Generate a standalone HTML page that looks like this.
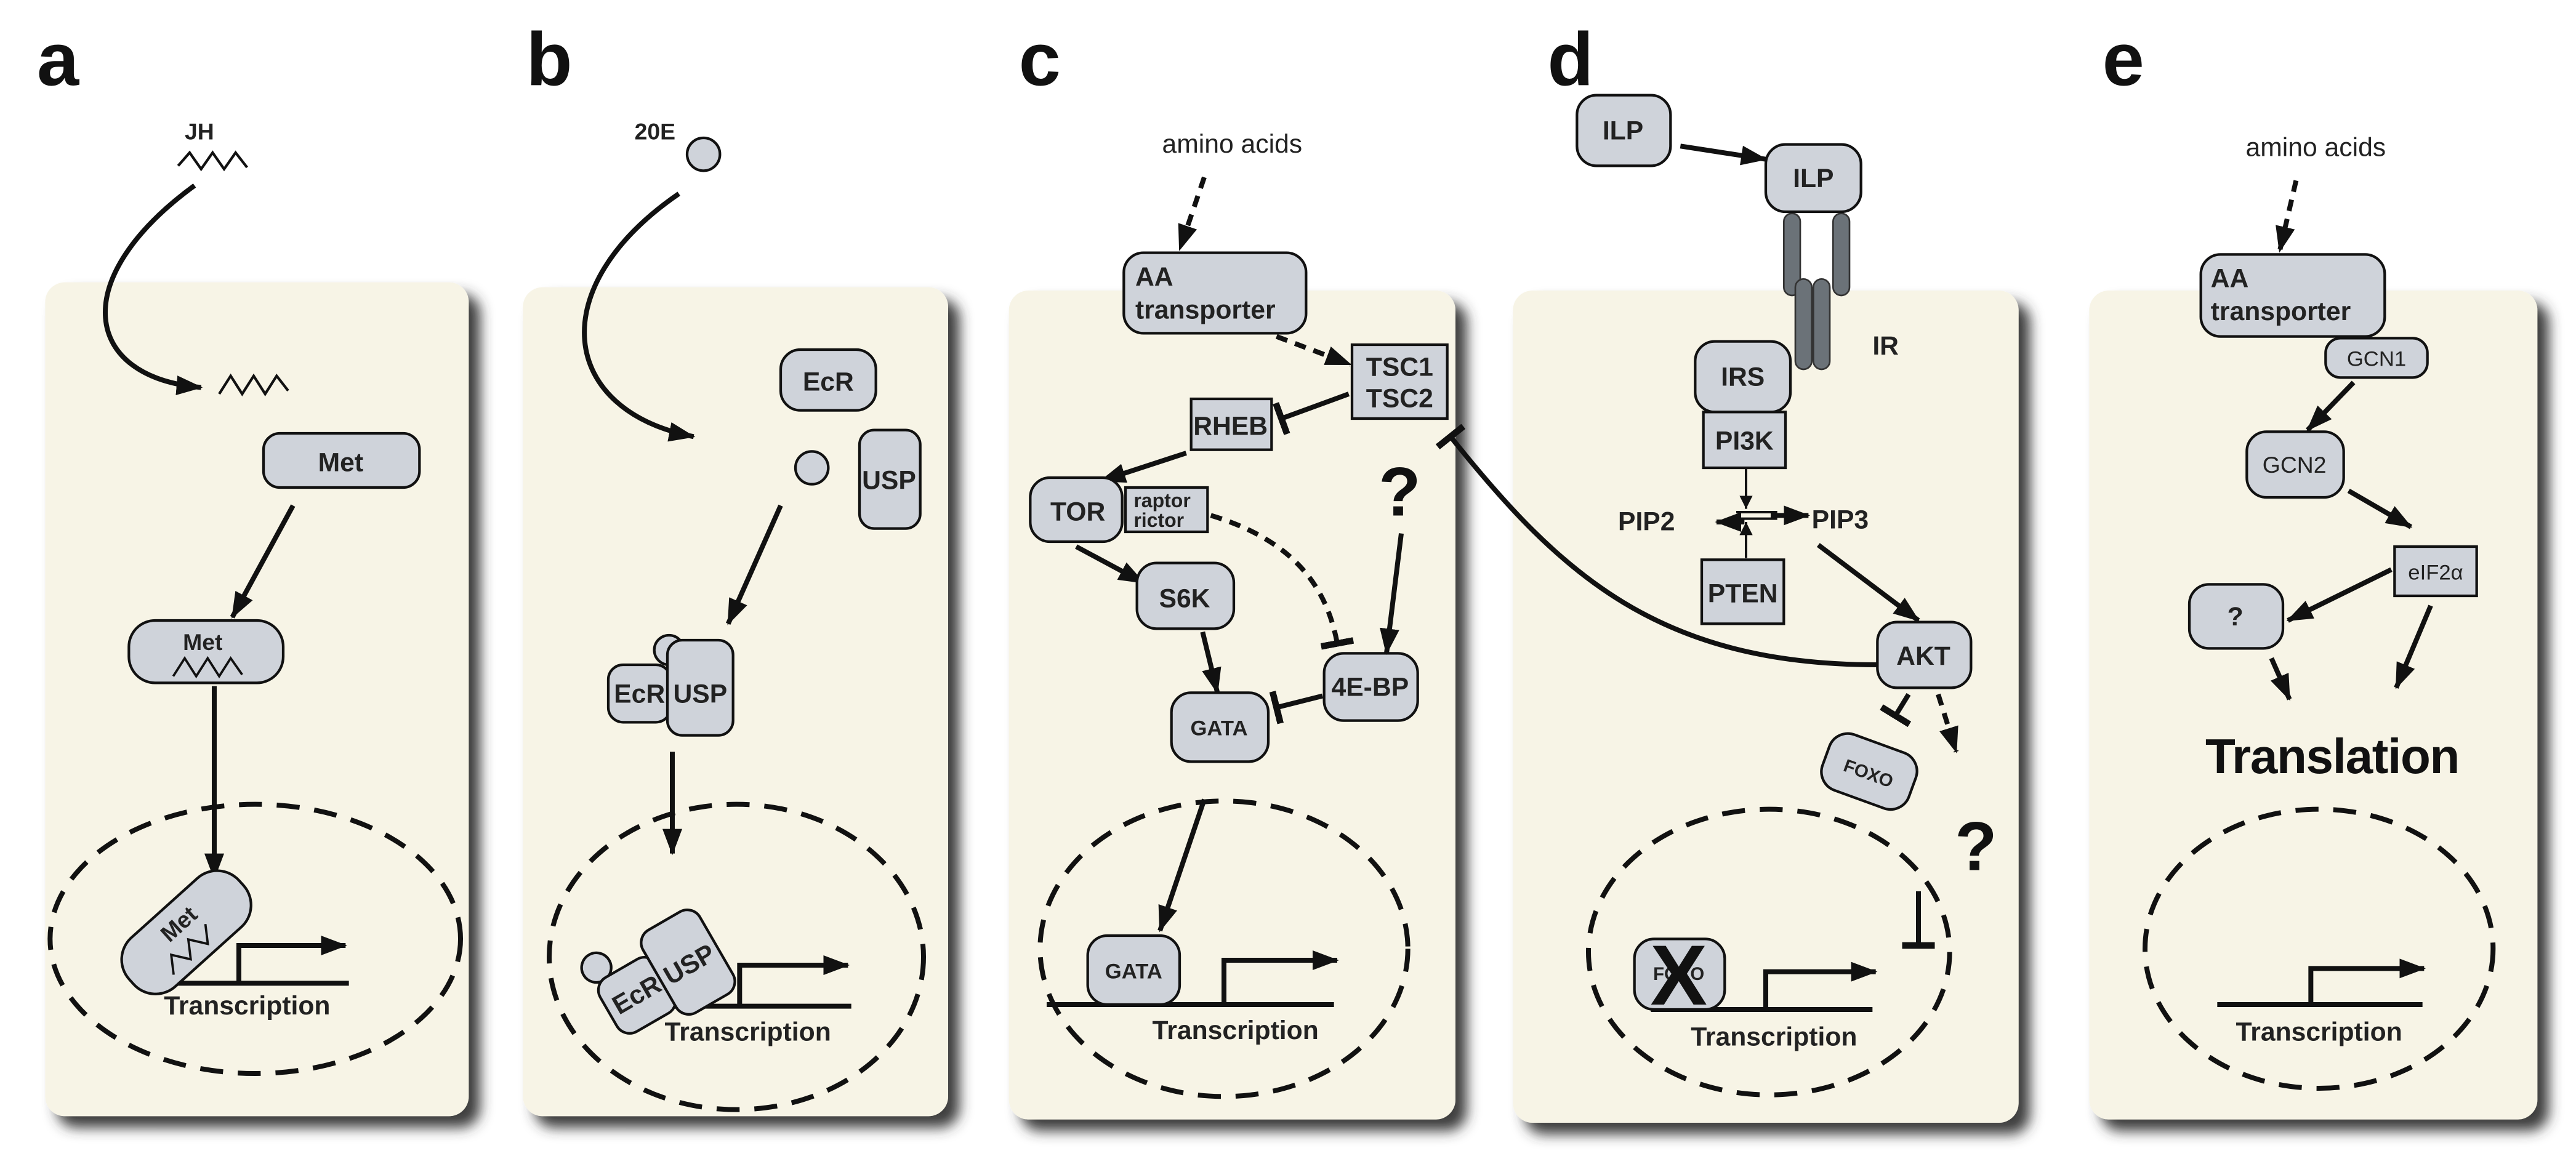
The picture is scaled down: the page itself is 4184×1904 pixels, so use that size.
<!DOCTYPE html>
<html><head><meta charset="utf-8"><style>
html,body{margin:0;padding:0;background:#fff;}
svg{display:block;}
text{font-family:"Liberation Sans",Arial,sans-serif;font-weight:bold;fill:#222;}
</style></head><body>
<svg width="4184" height="1904" viewBox="0 0 1568 714" xmlns="http://www.w3.org/2000/svg">
<defs>
<filter id="sh" x="-10%" y="-10%" width="130%" height="130%"><feDropShadow dx="7" dy="7" stdDeviation="4" flood-color="#333" flood-opacity="0.95"/></filter>
<marker id="ah" viewBox="0 0 16 12" refX="15" refY="6" markerWidth="16" markerHeight="12" orient="auto" markerUnits="userSpaceOnUse"><path d="M0,0 L16,6 L0,12 z" fill="#111"/></marker>
<marker id="sa" viewBox="0 0 10 10" refX="10" refY="5" markerWidth="8" markerHeight="8" orient="auto" markerUnits="userSpaceOnUse"><path d="M0,0 L10,5 L0,10 z" fill="#111"/></marker>
<marker id="bar" viewBox="0 0 4 20" refX="2" refY="10" markerWidth="4" markerHeight="20" orient="auto" markerUnits="userSpaceOnUse"><rect x="0" y="0" width="4" height="20" fill="#111"/></marker>
</defs>
<style>
.p{fill:#f7f4e6;}
.n{fill:#cfd3da;stroke:#111;stroke-width:1.6;}
.l{stroke:#111;stroke-width:3;fill:none;}
.d{stroke:#111;stroke-width:3;fill:none;stroke-dasharray:7 5;}
.nu{stroke:#111;stroke-width:3;fill:none;stroke-dasharray:14 9;}
.t{font-size:16px;}
.s{font-size:12px;}
.big{font-size:46px;font-weight:bold;fill:#111;}
</style>
<g filter="url(#sh)">
<rect class="p" x="27" y="172" width="258" height="508" rx="12"/>
<rect class="p" x="318" y="175" width="259" height="505" rx="12"/>
<rect class="p" x="614" y="177" width="272" height="505" rx="12"/>
<rect class="p" x="921" y="177" width="308" height="507" rx="12"/>
<rect class="p" x="1272" y="177" width="273" height="505" rx="12"/>
</g>
<text class="big" x="22" y="52">a</text>
<text class="big" x="320" y="52">b</text>
<text class="big" x="620" y="52">c</text>
<text class="big" x="942" y="52">d</text>
<text class="big" x="1280" y="52">e</text>

<!-- panel a -->
<text x="112" y="85" style="font-size:14px">JH</text>
<polyline class="l" style="stroke-width:1.6" points="108,101 115,93 122,103 129,93 136,103 143,93 150,102"/>
<path class="l" d="M118,113 C40,170 50,230 122,236" marker-end="url(#ah)"/>
<polyline class="l" style="stroke-width:1.6" points="133,240 140,229 147,240 154,229 161,240 168,229 175,238"/>
<rect class="n" x="160" y="264" width="95" height="33" rx="10"/>
<text class="t" x="207" y="287" text-anchor="middle">Met</text>
<line class="l" x1="178" y1="308" x2="141" y2="376" marker-end="url(#ah)"/>
<rect class="n" x="78" y="378" width="94" height="38" rx="16"/>
<text class="s" x="123" y="396" text-anchor="middle" style="font-size:14px">Met</text>
<polyline class="l" style="stroke-width:1.4" points="105,412 112,401 119,412 126,401 133,412 140,401 147,411"/>
<line class="l" x1="130" y1="418" x2="130" y2="535" marker-end="url(#ah)"/>
<ellipse class="nu" cx="155" cy="572" rx="125" ry="82"/>
<line class="l" x1="95" y1="599" x2="212" y2="599"/>
<path class="l" d="M145,599 V576 H210" marker-end="url(#ah)"/>
<g transform="rotate(-42 113 568)"><rect class="n" x="68" y="548" width="90" height="40" rx="18"/><text class="t" x="113" y="566" text-anchor="middle" style="font-size:14px">Met</text><polyline class="l" style="stroke-width:1.4" points="90,582 97,572 104,582 111,572 118,582 125,572"/></g>
<text class="t" x="150" y="618" text-anchor="middle">Transcription</text>

<!-- panel b -->
<text x="386" y="85" style="font-size:14px">20E</text>
<circle class="n" cx="428" cy="94" r="10"/>
<path class="l" d="M413,118 C330,175 340,250 422,266" marker-end="url(#ah)"/>
<rect class="n" x="475" y="213" width="58" height="37" rx="12"/>
<text class="t" x="504" y="238" text-anchor="middle">EcR</text>
<circle class="n" cx="494" cy="285" r="10"/>
<rect class="n" x="523" y="262" width="37" height="60" rx="9"/>
<text class="t" x="541" y="298" text-anchor="middle">USP</text>
<line class="l" x1="475" y1="308" x2="443" y2="380" marker-end="url(#ah)"/>
<circle class="n" cx="407" cy="396" r="9"/>
<rect class="n" x="370" y="405" width="38" height="35" rx="9"/>
<rect class="n" x="406" y="390" width="40" height="58" rx="9"/>
<text class="t" x="389" y="428" text-anchor="middle">EcR</text>
<text class="t" x="426" y="428" text-anchor="middle">USP</text>
<line class="l" x1="409" y1="458" x2="409" y2="520" marker-end="url(#ah)"/>
<ellipse class="nu" cx="448" cy="583" rx="114" ry="93"/>
<line class="l" x1="388" y1="613" x2="518" y2="613"/>
<path class="l" d="M450,613 V588 H516" marker-end="url(#ah)"/>
<g transform="rotate(-30 400 598)"><circle class="n" cx="372" cy="572" r="9"/><rect class="n" x="365" y="580" width="40" height="38" rx="9"/><rect class="n" x="402" y="568" width="40" height="58" rx="9"/><text class="t" x="385" y="604" text-anchor="middle">EcR</text><text class="t" x="422" y="604" text-anchor="middle">USP</text></g>
<text class="t" x="455" y="634" text-anchor="middle">Transcription</text>

<!-- panel c -->
<text class="t" x="750" y="93" text-anchor="middle" style="font-weight:normal">amino acids</text>
<line class="d" x1="733" y1="108" x2="718" y2="152" marker-end="url(#ah)"/>
<rect class="n" x="684" y="154" width="111" height="49" rx="12"/>
<text class="t" x="691" y="174">AA</text>
<text class="t" x="691" y="194">transporter</text>
<line class="d" x1="777" y1="205" x2="822" y2="222" marker-end="url(#ah)"/>
<rect class="n" x="823" y="210" width="58" height="45"/>
<text class="t" x="852" y="229" text-anchor="middle">TSC1</text>
<text class="t" x="852" y="248" text-anchor="middle">TSC2</text>
<rect class="n" x="725" y="243" width="49" height="31"/>
<text class="t" x="749" y="265" text-anchor="middle">RHEB</text>
<line class="l" x1="821" y1="240" x2="780" y2="255" marker-end="url(#bar)"/>
<line class="l" x1="722" y1="276" x2="670" y2="293" marker-end="url(#ah)"/>
<rect class="n" x="627" y="291" width="56" height="39" rx="12"/>
<text class="t" x="656" y="317" text-anchor="middle">TOR</text>
<rect class="n" x="685" y="297" width="50" height="27"/>
<text class="s" x="690" y="309">raptor</text>
<text class="s" x="690" y="321">rictor</text>
<line class="l" x1="655" y1="333" x2="696" y2="355" marker-end="url(#ah)"/>
<rect class="n" x="692" y="343" width="59" height="40" rx="12"/>
<text class="t" x="721" y="370" text-anchor="middle">S6K</text>
<line class="l" x1="732" y1="385" x2="741" y2="422" marker-end="url(#ah)"/>
<rect class="n" x="713" y="422" width="59" height="42" rx="12"/>
<text class="s" x="742" y="448" text-anchor="middle" style="font-size:13px">GATA</text>
<rect class="n" x="806" y="398" width="57" height="41" rx="12"/>
<text class="t" x="834" y="424" text-anchor="middle">4E-BP</text>
<line class="l" x1="805" y1="424" x2="777" y2="431" marker-end="url(#bar)"/>
<path class="d" d="M737,314 C790,330 808,360 814,392" marker-end="url(#bar)"/>
<text x="852" y="314" text-anchor="middle" style="font-size:42px;fill:#111">?</text>
<line class="l" x1="853" y1="325" x2="844" y2="398" marker-end="url(#ah)"/>
<path class="l" d="M1143,405 C1010,405 950,350 883,266" marker-end="url(#bar)"/>
<ellipse class="nu" cx="745" cy="578" rx="112" ry="90"/>
<line class="l" x1="733" y1="487" x2="706" y2="567" marker-end="url(#ah)"/>
<line class="l" x1="637" y1="612" x2="812" y2="612"/>
<path class="l" d="M745,612 V585 H814" marker-end="url(#ah)"/>
<rect class="n" x="662" y="570" width="56" height="42" rx="12"/>
<text class="s" x="690" y="596" text-anchor="middle" style="font-size:13px">GATA</text>
<text class="t" x="752" y="633" text-anchor="middle">Transcription</text>

<!-- panel d -->
<rect class="n" x="960" y="58" width="57" height="43" rx="12"/>
<text class="t" x="988" y="85" text-anchor="middle">ILP</text>
<line class="l" x1="1023" y1="89" x2="1075" y2="97" marker-end="url(#ah)"/>
<rect x="1086" y="130" width="10" height="50" rx="5" style="fill:#6b7278;stroke:#333"/>
<rect x="1116" y="130" width="10" height="50" rx="5" style="fill:#6b7278;stroke:#333"/>
<rect x="1093" y="170" width="10" height="55" rx="5" style="fill:#6b7278;stroke:#333"/>
<rect x="1104" y="170" width="10" height="55" rx="5" style="fill:#6b7278;stroke:#333"/>
<rect class="n" x="1075" y="88" width="58" height="41" rx="12"/>
<text class="t" x="1104" y="114" text-anchor="middle">ILP</text>
<text class="t" x="1140" y="216">IR</text>
<rect class="n" x="1032" y="208" width="58" height="43" rx="12"/>
<text class="t" x="1061" y="235" text-anchor="middle">IRS</text>
<rect class="n" x="1037" y="251" width="50" height="34"/>
<text class="t" x="1062" y="274" text-anchor="middle">PI3K</text>
<line class="l" style="stroke-width:1.5" x1="1063" y1="285" x2="1063" y2="310" marker-end="url(#sa)"/>
<line class="l" style="stroke-width:1.5" x1="1057" y1="312" x2="1082" y2="312"/>
<line class="l" style="stroke-width:1.5" x1="1057" y1="316" x2="1082" y2="316"/>
<line class="l" x1="1062" y1="318" x2="1045" y2="318" marker-end="url(#ah)"/>
<line class="l" x1="1078" y1="314" x2="1101" y2="314" marker-end="url(#ah)"/>
<text class="t" x="985" y="323">PIP2</text>
<text class="t" x="1103" y="322">PIP3</text>
<line class="l" style="stroke-width:1.5" x1="1063" y1="340" x2="1063" y2="318" marker-end="url(#sa)"/>
<rect class="n" x="1036" y="341" width="50" height="39"/>
<text class="t" x="1061" y="367" text-anchor="middle">PTEN</text>
<line class="l" x1="1107" y1="332" x2="1168" y2="378" marker-end="url(#ah)"/>
<rect class="n" x="1143" y="379" width="57" height="40" rx="12"/>
<text class="t" x="1171" y="405" text-anchor="middle">AKT</text>
<line class="l" x1="1162" y1="423" x2="1154" y2="436" marker-end="url(#bar)"/>
<g transform="rotate(20 1138 470)"><rect class="n" x="1110" y="452" width="56" height="36" rx="12"/><text class="s" x="1138" y="475" text-anchor="middle" style="font-size:11px">FOXO</text></g>
<line class="d" x1="1180" y1="423" x2="1191" y2="458" marker-end="url(#ah)"/>
<text x="1203" y="530" text-anchor="middle" style="font-size:42px;fill:#111">?</text>
<ellipse class="nu" cx="1077" cy="580" rx="110" ry="87"/>
<line class="l" x1="1168" y1="543" x2="1168" y2="576" marker-end="url(#bar)"/>
<line class="l" x1="1005" y1="615" x2="1140" y2="615"/>
<path class="l" d="M1075,615 V592 H1142" marker-end="url(#ah)"/>
<rect class="n" x="995" y="572" width="55" height="43" rx="12"/>
<text class="s" x="1022" y="597" text-anchor="middle" style="font-size:11px">FOXO</text>
<text x="1022" y="612" text-anchor="middle" style="font-size:52px;fill:#111">X</text>
<text class="t" x="1080" y="637" text-anchor="middle">Transcription</text>

<!-- panel e -->
<text class="t" x="1410" y="95" text-anchor="middle" style="font-weight:normal">amino acids</text>
<line class="d" x1="1398" y1="110" x2="1388" y2="153" marker-end="url(#ah)"/>
<rect class="n" x="1340" y="155" width="112" height="50" rx="12"/>
<text class="t" x="1346" y="175">AA</text>
<text class="t" x="1346" y="195">transporter</text>
<rect class="n" x="1416" y="206" width="62" height="24" rx="9"/>
<text class="s" x="1447" y="223" text-anchor="middle" style="font-weight:normal;font-size:13px">GCN1</text>
<line class="l" x1="1433" y1="233" x2="1405" y2="262" marker-end="url(#ah)"/>
<rect class="n" x="1368" y="263" width="59" height="40" rx="12"/>
<text class="s" x="1397" y="288" text-anchor="middle" style="font-weight:normal;font-size:14px">GCN2</text>
<line class="l" x1="1430" y1="299" x2="1468" y2="321" marker-end="url(#ah)"/>
<rect class="n" x="1458" y="333" width="50" height="30"/>
<text class="s" x="1483" y="353" text-anchor="middle" style="font-weight:normal;font-size:13px">eIF2α</text>
<line class="l" x1="1456" y1="347" x2="1393" y2="378" marker-end="url(#ah)"/>
<rect class="n" x="1333" y="356" width="57" height="39" rx="12"/>
<text class="t" x="1361" y="381" text-anchor="middle">?</text>
<line class="l" x1="1383" y1="401" x2="1394" y2="426" marker-end="url(#ah)"/>
<line class="l" x1="1480" y1="369" x2="1459" y2="419" marker-end="url(#ah)"/>
<text x="1420" y="471" text-anchor="middle" style="font-size:30px;fill:#111;letter-spacing:-0.5px">Translation</text>
<ellipse class="nu" cx="1412" cy="578" rx="106" ry="85"/>
<line class="l" x1="1350" y1="612" x2="1475" y2="612"/>
<path class="l" d="M1407,612 V590 H1476" marker-end="url(#ah)"/>
<text class="t" x="1412" y="634" text-anchor="middle">Transcription</text>
</svg>
</body></html>
